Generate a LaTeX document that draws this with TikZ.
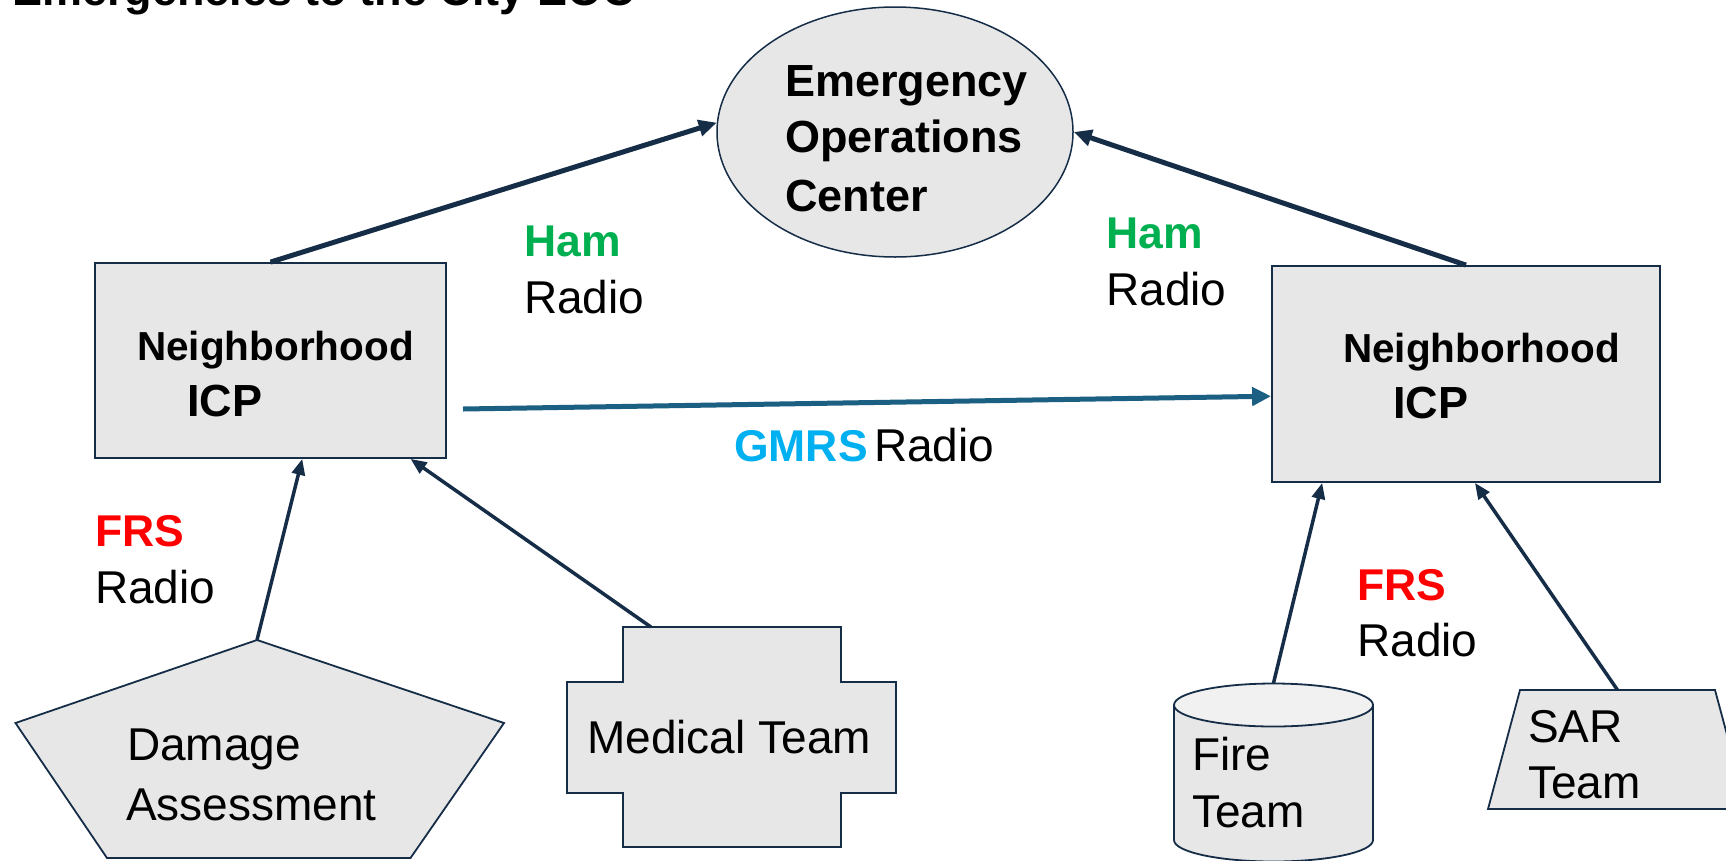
\documentclass[tikz,border=0pt]{standalone}
\usepackage{fontspec}
\setmainfont{Liberation Sans}
\usetikzlibrary{arrows.meta,shapes.geometric,calc}
\definecolor{navy}{RGB}{22,45,72}
\definecolor{shapefill}{RGB}{231,231,231}
\definecolor{toplight}{RGB}{241,241,241}
\definecolor{gmrsline}{RGB}{27,95,130}
\definecolor{hamgreen}{RGB}{0,176,80}
\definecolor{gmrsblue}{RGB}{0,176,240}
\definecolor{frsred}{RGB}{255,0,0}
\begin{document}
\begin{tikzpicture}[x=1pt,y=-1pt,
  txt/.style={inner sep=0pt, anchor=base west, font=\fontsize{46}{54}\selectfont},
  txtb/.style={inner sep=0pt, anchor=base west, font=\fontsize{44.5}{52}\selectfont\bfseries},
  nbh/.style={inner sep=0pt, anchor=base west, font=\fontsize{40.5}{48}\selectfont\bfseries},
  icpt/.style={inner sep=0pt, anchor=base west, font=\fontsize{45}{54}\selectfont\bfseries},
  eoct/.style={inner sep=0pt, anchor=base west, font=\fontsize{45}{54}\selectfont\bfseries},
  box/.style={rectangle, draw=navy, line width=1.8pt, fill=shapefill, inner sep=0pt},
  ghost/.style={rectangle, inner sep=0pt, outer sep=0pt, draw=none},
  shapeline/.style={draw=navy, line width=1.8pt, fill=shapefill, line join=miter},
  eocarrow/.style={draw=navy, line width=5pt, -{Triangle[length=18pt,width=16pt]}},
  gmrsarrow/.style={draw=gmrsline, line width=5pt, -{Triangle[length=19pt,width=18pt]}},
  teamarrow/.style={draw=navy, line width=3.5pt, -{Triangle[length=16pt,width=13pt]}}
]
\useasboundingbox (0,0) rectangle (1726,860);
\fill[white] (0,0) rectangle (1726,860);
\clip (0,0) rectangle (1726,860);

% title (cut off at the top, as in the source)
\node[inner sep=0pt, anchor=base west, font=\fontsize{45}{54}\selectfont\bfseries] (title) at (12,5) {Emergencies to the City EOC};

% EOC
\node[ellipse, draw=navy, line width=1.5pt, fill=shapefill, minimum width=356pt, minimum height=250pt, inner sep=0pt] (eoc) at (895,132) {};
\node[eoct] (eoc1) at (785,96) {Emergency};
\node[eoct] (eoc2) at (785,152) {Operations};
\node[eoct] (eoc3) at (785,211) {Center};

% ICP boxes
\node[box, minimum width=351pt, minimum height=195pt] (licp) at (270.5,360.5) {};
\node[nbh] (licp1) at (137,360) {Neighborhood};
\node[icpt] (licp2) at (187,416) {ICP};
\node[box, minimum width=388pt, minimum height=216pt] (ricp) at (1466,374) {};
\node[nbh] (ricp1) at (1343,362) {Neighborhood};
\node[icpt] (ricp2) at (1393,418) {ICP};

% Damage Assessment pentagon
\node[ghost, minimum width=489pt, minimum height=218pt] (dmg) at (257,749) {};
\draw[shapeline] (257,640) -- (504,723) -- (410.5,858) -- (107,858) -- (15.5,723) -- cycle;
\node[txt] (dmg1) at (127,760) {Damage};
\node[txt] (dmg2) at (126,820) {Assessment};

% Medical Team cross
\node[ghost, minimum width=329pt, minimum height=220pt] (med) at (731.5,737) {};
\draw[shapeline] (623,627) -- (841,627) -- (841,682) -- (896,682) -- (896,793) -- (841,793) -- (841,847) -- (623,847) -- (623,793) -- (567,793) -- (567,682) -- (623,682) -- cycle;
\node[txt] (med1) at (587,753) {Medical Team};

% Fire Team cylinder
\node[ghost, minimum width=199pt, minimum height=178pt] (fire) at (1273.5,772) {};
\fill[shapefill] (1174,705) rectangle (1373,840);
\fill[shapefill] (1273.5,840) ellipse [x radius=99.5pt, y radius=21.5pt];
\draw[navy, line width=1.8pt] (1174,705) -- (1174,840) arc [start angle=180, end angle=360, x radius=99.5pt, y radius=21.5pt] -- (1373,705);
\draw[navy, line width=1.8pt, fill=toplight] (1273.5,705) ellipse [x radius=99.5pt, y radius=21.5pt];
\node[txt] (fire1) at (1192,770) {Fire};
\node[txt] (fire2) at (1192,827) {Team};

% SAR Team trapezoid
\node[ghost, minimum width=259pt, minimum height=119pt] (sar) at (1617.5,749.5) {};
\draw[shapeline] (1520,690) -- (1715,690) -- (1747,809) -- (1488,809) -- cycle;
\node[txt] (sar1) at (1528,742) {SAR};
\node[txt] (sar2) at (1528,798) {Team};

% labels
\node[txtb, text=hamgreen] (haml1) at (524,256) {Ham};
\node[txt] (haml2) at (524,313) {Radio};
\node[txtb, text=hamgreen] (hamr1) at (1106,248) {Ham};
\node[txt] (hamr2) at (1106,305) {Radio};
\node[txtb, text=gmrsblue] (gmrs1) at (734,461) {GMRS};
\node[txt] (gmrs2) at (874,461) {Radio};
\node[txtb, text=frsred] (frsl1) at (95,546) {FRS};
\node[txt] (frsl2) at (95,603) {Radio};
\node[txtb, text=frsred] (frsr1) at (1357,600) {FRS};
\node[txt] (frsr2) at (1357,656) {Radio};

% connectors
\draw[eocarrow] (licp.north) -- (eoc.177);
\draw[eocarrow] (ricp.north) -- (eoc.east);
\coordinate (gmrsstart) at (463,409);
\draw[gmrsarrow] (gmrsstart) -- ($(ricp.south west)!0.398!(ricp.north west)$);
\draw[teamarrow] (dmg.north) -- ($(licp.south west)!0.590!(licp.south east)$);
\draw[teamarrow] ($(med.north west)!0.255!(med.north east)$) -- ($(licp.south west)!0.897!(licp.south east)$);
\draw[teamarrow] (fire.north) -- ($(ricp.south west)!0.131!(ricp.south east)$);
\draw[teamarrow] (sar.north) -- ($(ricp.south west)!0.523!(ricp.south east)$);
\end{tikzpicture}
\end{document}
